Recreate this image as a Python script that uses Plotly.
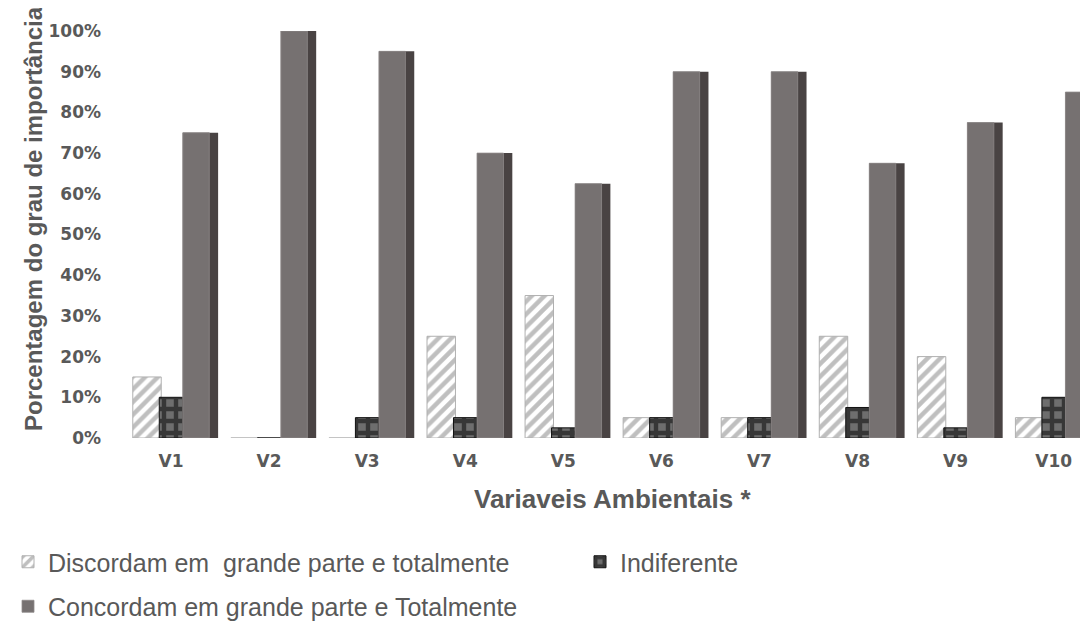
import plotly.graph_objects as go

categories = ["V1", "V2", "V3", "V4", "V5", "V6", "V7", "V8", "V9", "V10"]
discordam = [0.15, 0.0, 0.0, 0.25, 0.35, 0.05, 0.05, 0.25, 0.20, 0.05]
indiferente = [0.10, 0.0, 0.05, 0.05, 0.025, 0.05, 0.05, 0.075, 0.025, 0.10]
concordam = [0.75, 1.00, 0.95, 0.70, 0.625, 0.90, 0.90, 0.675, 0.775, 0.85]
y_ticks = [0, 0.1, 0.2, 0.3, 0.4, 0.5, 0.6, 0.7, 0.8, 0.9, 1.0]
y_ticktext = ["0%", "10%", "20%", "30%", "40%", "50%", "60%", "70%", "80%", "90%", "100%"]

TXT = "#595959"
W, H = 1088, 626
L, T, B = 114, 23, 196
PW, PH = W - L, H - T - B


def px_x(px):
    return (px - L) / PW


def px_y(py):
    return (H - B - py) / PH


fig = go.Figure()

fig.add_trace(go.Bar(
    x=categories, y=discordam, name="Discordam em  grande parte e totalmente",
    offset=-0.39, width=0.29,
    marker=dict(color="white", line=dict(color="#b0b0b0", width=1),
                pattern=dict(shape="/", fgcolor="#7f7f7f", bgcolor="white", size=9, solidity=0.5)),
    legend="legend", legendgroup="a", legendrank=1,
))
fig.add_trace(go.Bar(
    x=categories, y=indiferente, name="Indiferente",
    offset=-0.12, width=0.24,
    marker=dict(color="#6b6b6b", line=dict(color="#111111", width=1),
                pattern=dict(shape="+", fgcolor="#000000", bgcolor="#6e6e6e", size=12, solidity=0.6)),
    legend="legend2",
))
# depth (side face) of the concordam bars
fig.add_trace(go.Bar(
    x=categories, y=concordam, name="side", showlegend=False, hoverinfo="skip",
    offset=0.12, width=0.36,
    marker=dict(color="#494343", line=dict(width=0)),
))
fig.add_trace(go.Bar(
    x=categories, y=concordam, name="Concordam em grande parte e Totalmente",
    offset=0.12, width=0.27,
    marker=dict(color="#767171", line=dict(color="#8f8a8a", width=0.8)),
    legend="legend", legendgroup="b", legendrank=2,
))

fig.update_layout(
    width=W, height=H,
    barmode="overlay",
    plot_bgcolor="white", paper_bgcolor="white",
    margin=dict(l=L, r=0, t=T, b=B, autoexpand=False),
    font=dict(family="Liberation Sans, Arial", color=TXT),
    xaxis=dict(
        range=[-0.5, -0.5 + PW / 98.07], showgrid=False, zeroline=False, showline=False,
        tickfont=dict(family="DejaVu Sans", size=17, color=TXT, weight="bold"),
        ticks="", ticklabelstandoff=11, tickangle=0,
    ),
    yaxis=dict(
        range=[0, 1.0], tickvals=y_ticks, ticktext=y_ticktext,
        showgrid=False, zeroline=False, showline=False, ticks="",
        tickfont=dict(family="DejaVu Sans", size=17, color=TXT, weight="bold"),
        ticklabelstandoff=20,
    ),
    annotations=[
        dict(text="<b>Porcentagem do grau de importância</b>", textangle=-90,
             xref="paper", yref="paper", x=px_x(25), y=px_y(211),
             xanchor="center", yanchor="middle", showarrow=False,
             font=dict(size=24, color=TXT, family="Liberation Sans, Arial")),
        dict(text="<b>Variaveis Ambientais *</b>",
             xref="paper", yref="paper", x=px_x(604), y=px_y(491),
             xanchor="center", yanchor="middle", showarrow=False,
             font=dict(size=26, color=TXT, family="Liberation Sans, Arial")),
    ],
    legend=dict(
        orientation="v", xref="container", yref="container", x=0.0, y=1 - 531 / H,
        xanchor="left", yanchor="top", font=dict(size=25, color=TXT),
        tracegroupgap=9, itemwidth=30, bgcolor="rgba(0,0,0,0)",
    ),
    legend2=dict(
        orientation="v", xref="container", yref="container", x=572 / W, y=1 - 531 / H,
        xanchor="left", yanchor="top", font=dict(size=25, color=TXT),
        itemwidth=30, bgcolor="rgba(0,0,0,0)",
    ),
    showlegend=True,
)

fig.write_html("out.html")
